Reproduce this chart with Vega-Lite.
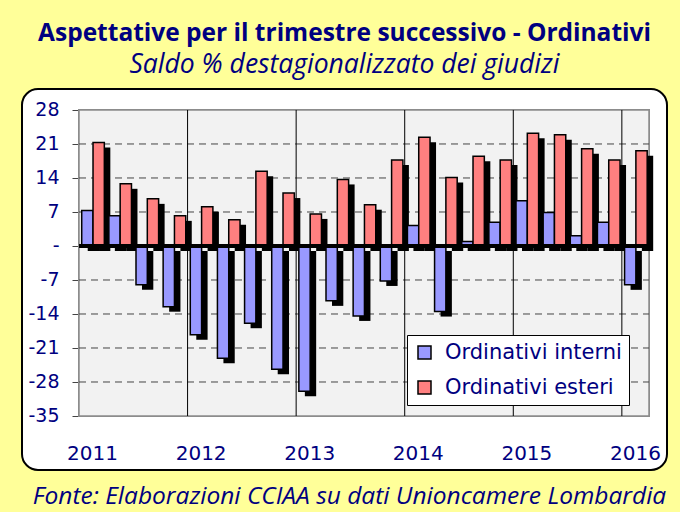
{
  "$schema": "https://vega.github.io/schema/vega-lite/v6.json",
  "width": 645,
  "height": 381,
  "autosize": {"type": "none"},
  "padding": {"left": 22, "top": 89, "right": 13, "bottom": 42},
  "background": "#FFFF99",
  "view": {"fill": "white", "stroke": "black", "strokeWidth": 2, "cornerRadius": 16},
  "title": {
    "text": "Aspettative per il trimestre successivo - Ordinativi",
    "subtitle": "Saldo % destagionalizzato dei giudizi",
    "anchor": "middle",
    "font": "Open Sans",
    "fontSize": 24.5,
    "fontWeight": "bold",
    "color": "#000080",
    "subtitleFont": "Open Sans",
    "subtitleFontSize": 26.5,
    "subtitleFontStyle": "italic",
    "subtitleColor": "#000080",
    "subtitlePadding": 5,
    "offset": 10
  },
  "datasets": {
    "main": [
      {"q": "2011 T1", "serie": "Ordinativi interni", "v": 7.3},
      {"q": "2011 T1", "serie": "Ordinativi esteri", "v": 21.3},
      {"q": "2011 T2", "serie": "Ordinativi interni", "v": 6.2},
      {"q": "2011 T2", "serie": "Ordinativi esteri", "v": 12.8},
      {"q": "2011 T3", "serie": "Ordinativi interni", "v": -8.0},
      {"q": "2011 T3", "serie": "Ordinativi esteri", "v": 9.7},
      {"q": "2011 T4", "serie": "Ordinativi interni", "v": -12.5},
      {"q": "2011 T4", "serie": "Ordinativi esteri", "v": 6.2},
      {"q": "2012 T1", "serie": "Ordinativi interni", "v": -18.3},
      {"q": "2012 T1", "serie": "Ordinativi esteri", "v": 8.1},
      {"q": "2012 T2", "serie": "Ordinativi interni", "v": -23.1},
      {"q": "2012 T2", "serie": "Ordinativi esteri", "v": 5.4},
      {"q": "2012 T3", "serie": "Ordinativi interni", "v": -15.9},
      {"q": "2012 T3", "serie": "Ordinativi esteri", "v": 15.4},
      {"q": "2012 T4", "serie": "Ordinativi interni", "v": -25.4},
      {"q": "2012 T4", "serie": "Ordinativi esteri", "v": 10.9},
      {"q": "2013 T1", "serie": "Ordinativi interni", "v": -29.9},
      {"q": "2013 T1", "serie": "Ordinativi esteri", "v": 6.6},
      {"q": "2013 T2", "serie": "Ordinativi interni", "v": -11.3},
      {"q": "2013 T2", "serie": "Ordinativi esteri", "v": 13.7},
      {"q": "2013 T3", "serie": "Ordinativi interni", "v": -14.4},
      {"q": "2013 T3", "serie": "Ordinativi esteri", "v": 8.5},
      {"q": "2013 T4", "serie": "Ordinativi interni", "v": -7.2},
      {"q": "2013 T4", "serie": "Ordinativi esteri", "v": 17.7},
      {"q": "2014 T1", "serie": "Ordinativi interni", "v": 4.2},
      {"q": "2014 T1", "serie": "Ordinativi esteri", "v": 22.4},
      {"q": "2014 T2", "serie": "Ordinativi interni", "v": -13.5},
      {"q": "2014 T2", "serie": "Ordinativi esteri", "v": 14.1},
      {"q": "2014 T3", "serie": "Ordinativi interni", "v": 0.9},
      {"q": "2014 T3", "serie": "Ordinativi esteri", "v": 18.5},
      {"q": "2014 T4", "serie": "Ordinativi interni", "v": 4.9},
      {"q": "2014 T4", "serie": "Ordinativi esteri", "v": 17.7},
      {"q": "2015 T1", "serie": "Ordinativi interni", "v": 9.3},
      {"q": "2015 T1", "serie": "Ordinativi esteri", "v": 23.2},
      {"q": "2015 T2", "serie": "Ordinativi interni", "v": 6.9},
      {"q": "2015 T2", "serie": "Ordinativi esteri", "v": 22.9},
      {"q": "2015 T3", "serie": "Ordinativi interni", "v": 2.1},
      {"q": "2015 T3", "serie": "Ordinativi esteri", "v": 20.0},
      {"q": "2015 T4", "serie": "Ordinativi interni", "v": 4.9},
      {"q": "2015 T4", "serie": "Ordinativi esteri", "v": 17.7},
      {"q": "2016 T1", "serie": "Ordinativi interni", "v": -8.0},
      {"q": "2016 T1", "serie": "Ordinativi esteri", "v": 19.6}
    ],
    "grid": [{"g": -28}, {"g": -21}, {"g": -14}, {"g": -7}, {"g": 7}, {"g": 14}, {"g": 21}]
  },
  "data": {"name": "main"},
  "resolve": {"scale": {"xOffset": "independent"}},
  "layer": [
    {
      "mark": {"type": "rect", "fill": "#F2F2F2", "stroke": "#8C8C8C", "strokeWidth": 1.5},
      "encoding": {
        "x": {
          "datum": "2011 T1",
          "type": "ordinal",
          "bandPosition": 0,
          "scale": {"domain": ["2011 T1","2011 T2","2011 T3","2011 T4","2012 T1","2012 T2","2012 T3","2012 T4","2013 T1","2013 T2","2013 T3","2013 T4","2014 T1","2014 T2","2014 T3","2014 T4","2015 T1","2015 T2","2015 T3","2015 T4","2016 T1"], "range": [57, 627], "paddingInner": 0, "paddingOuter": 0},
          "axis": {
            "orient": "bottom",
            "offset": -54,
            "ticks": false,
            "domain": false,
            "grid": false,
            "labelAngle": 0,
            "labelOverlap": false,
            "labelPadding": 27,
            "labelFont": "DejaVu Sans",
            "labelFontSize": 20,
            "labelColor": "#000080",
            "labelExpr": "indexof(datum.value, 'T1') >= 0 ? substring(datum.value, 0, 4) : ''",
            "title": "Fonte: Elaborazioni CCIAA su dati Unioncamere Lombardia",
            "titleFont": "Open Sans",
            "titleFontSize": 24.5,
            "titleFontStyle": "italic",
            "titleFontWeight": "normal",
            "titleColor": "#000080",
            "titlePadding": 21,
            "titleX": 327
          }
        },
        "x2": {"datum": "2016 T1", "bandPosition": 1},
        "y": {
          "datum": 28,
          "type": "quantitative",
          "scale": {"domain": [-46.12, 32.32], "nice": false, "zero": false},
          "axis": {
            "values": [-35, -28, -21, -14, -7, 0, 7, 14, 21, 28],
            "offset": -57,
            "domain": false,
            "grid": false,
            "tickSize": 7,
            "tickColor": "#444444",
            "labelPadding": 13,
            "labelFont": "DejaVu Sans",
            "labelFontSize": 19,
            "labelColor": "#000080",
            "labelExpr": "datum.value == 0 ? '-' : '' + datum.value",
            "title": null
          }
        },
        "y2": {"datum": -35}
      }
    },
    {
      "data": {"name": "grid"},
      "mark": {"type": "rule", "color": "#444444", "strokeWidth": 1, "strokeDash": [7, 5]},
      "encoding": {
        "x": {"datum": "2011 T1", "type": "ordinal", "bandPosition": 0},
        "x2": {"datum": "2016 T1", "bandPosition": 1},
        "y": {"field": "g", "type": "quantitative"}
      }
    },
    {
      "transform": [{"filter": "datum.serie == 'Ordinativi interni' && indexof(datum.q, 'T1') > 0 && datum.q != '2011 T1'"}],
      "mark": {"type": "rule", "color": "#000000", "strokeWidth": 1},
      "encoding": {
        "x": {"field": "q", "type": "ordinal", "bandPosition": 0},
        "y": {"datum": 28, "type": "quantitative"},
        "y2": {"datum": -35}
      }
    },
    {
      "mark": {"type": "bar", "color": "#000000", "yOffset": 5, "y2Offset": 5},
      "encoding": {
        "x": {"field": "q", "type": "ordinal"},
        "xOffset": {"field": "serie", "type": "nominal", "sort": ["Ordinativi interni", "Ordinativi esteri"], "scale": {"domain": ["Ordinativi interni", "Ordinativi esteri"], "range": [6, 33.14], "paddingInner": 0, "paddingOuter": 0.2, "align": 0.6}},
        "y": {"field": "v", "type": "quantitative"}
      }
    },
    {
      "mark": {"type": "bar", "stroke": "#000000", "strokeWidth": 1.5},
      "encoding": {
        "x": {"field": "q", "type": "ordinal"},
        "xOffset": {"field": "serie", "type": "nominal", "sort": ["Ordinativi interni", "Ordinativi esteri"], "scale": {"domain": ["Ordinativi interni", "Ordinativi esteri"], "range": [0, 27.14], "paddingInner": 0, "paddingOuter": 0.2, "align": 0.6}},
        "y": {"field": "v", "type": "quantitative"},
        "color": {
          "field": "serie",
          "type": "nominal",
          "scale": {"domain": ["Ordinativi interni", "Ordinativi esteri"], "range": ["#9999FF", "#FF8080"]},
          "legend": {
            "orient": "none",
            "legendX": 385,
            "legendY": 246,
            "title": null,
            "fillColor": "white",
            "strokeColor": "black",
            "padding": 7,
            "symbolType": "square",
            "symbolSize": 169,
            "symbolStrokeColor": "black",
            "symbolStrokeWidth": 1.5,
            "labelFont": "DejaVu Sans",
            "labelFontSize": 21,
            "labelLimit": 400,
            "labelColor": "#000080",
            "labelOffset": 10,
            "rowPadding": 13
          }
        }
      }
    },
    {
      "mark": {"type": "rule", "color": "#000000", "strokeWidth": 3},
      "encoding": {
        "x": {"datum": "2011 T1", "type": "ordinal", "bandPosition": 0},
        "x2": {"datum": "2016 T1", "bandPosition": 1},
        "y": {"datum": 0, "type": "quantitative"}
      }
    }
  ]
}
